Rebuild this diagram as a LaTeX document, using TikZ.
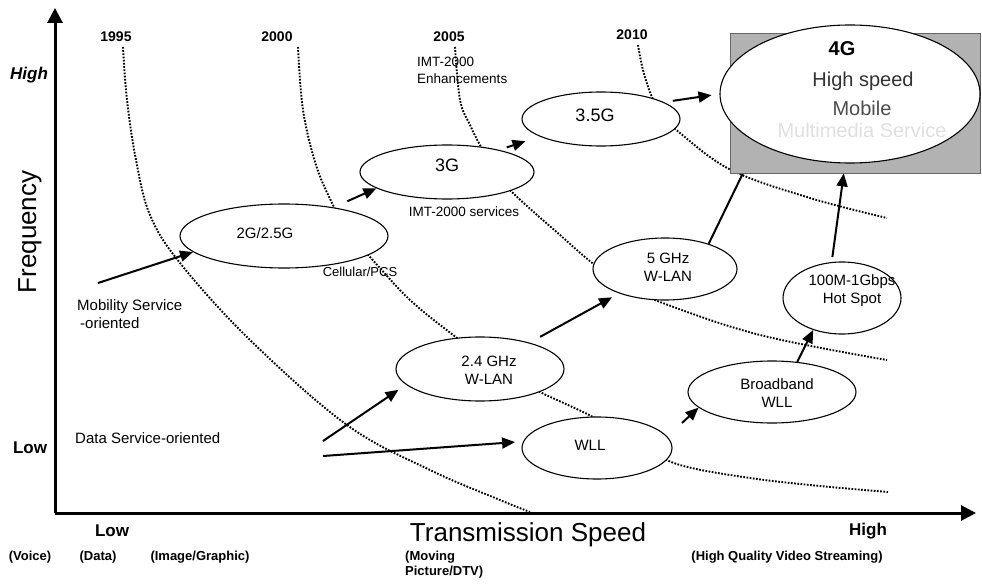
\documentclass[tikz,border=0pt]{standalone}
\usepackage{fontspec}
\setmainfont{Liberation Sans}
\usetikzlibrary{shapes.geometric,arrows.meta}
\pgfdeclarelayer{bg}
\pgfsetlayers{bg,main}
\tikzset{
  ell/.style={ellipse, draw, line width=1.1pt, fill=white, inner sep=0pt},
  lbl/.style={font=\fontsize{15}{18}\selectfont, align=center, inner sep=0pt},
  lblbig/.style={font=\fontsize{18}{20}\selectfont, inner sep=0pt},
  arr/.style={line width=2pt, -{Triangle[length=13pt,width=11pt]}},
  axisline/.style={line width=3pt, -{Triangle[length=15pt,width=15pt]}},
  yearcurve/.style={line width=1.9pt, dash pattern=on 1.7pt off 1.5pt},
  plain/.style={font=\fontsize{15}{18}\selectfont, inner sep=0pt},
  small/.style={font=\fontsize{13.5}{17}\selectfont, inner sep=0pt},
  year/.style={font=\bfseries\fontsize{14}{16}\selectfont, inner sep=0pt},
  axlbl/.style={font=\bfseries\fontsize{17}{19}\selectfont, inner sep=0pt},
  bottom/.style={font=\bfseries\fontsize{13}{15}\selectfont, inner sep=0pt},
  bigtitle/.style={font=\fontsize{26}{28}\selectfont, inner sep=0pt},
  fourg/.style={font=\fontsize{20}{22}\selectfont, inner sep=0pt},
}
\begin{document}
\begin{tikzpicture}[x=1pt,y=-1pt]
\useasboundingbox (0,0) rectangle (982,588);

% axes
\coordinate (O) at (55,513);
\coordinate (ytop) at (55,8);
\coordinate (xend) at (976,513);
\draw[axisline] (O) -- (ytop);
\draw[axisline] (O) -- (xend);

% axis labels
\node[axlbl, font=\bfseries\itshape\fontsize{17}{19}\selectfont] (yhigh) at (29,75) {High};
\node[axlbl] (ylow) at (30,448) {Low};
\node[bigtitle, rotate=90] (freq) at (30,232) {Frequency};
\node[axlbl] (xlow) at (112,531) {Low};
\node[axlbl] (xhigh) at (868,531) {High};
\node[bigtitle] (tspeed) at (528,535) {Transmission Speed};

% bottom row
\node[bottom] (voice) at (30,557) {(Voice)};
\node[bottom] (data) at (98,557) {(Data)};
\node[bottom] (image) at (200,557) {(Image/Graphic)};
\node[bottom, anchor=west, align=left, font=\bfseries\fontsize{13}{15}\selectfont] (moving) at (405,564.5) {(Moving\\Picture/DTV)};
\node[bottom] (hq) at (787,557) {(High Quality Video Streaming)};

% years
\node[year] (y1995) at (116,37) {1995};
\node[year] (y2000) at (277,37) {2000};
\node[year] (y2005) at (449,37) {2005};
\node[year] (y2010) at (632,35) {2010};

% shaded box
\node[draw=black!60, fill=black!30, line width=0.8pt, minimum width=250pt, minimum height=140pt, inner sep=0pt] (box) at (855,103) {};

% ellipses
\node[ell, minimum width=208pt, minimum height=64pt,
  label={[lbl,xshift=-19pt,yshift=3pt]center:2G/2.5G}] (g2) at (284,236) {};
\node[ell, minimum width=174pt, minimum height=54pt,
  label={[lblbig,yshift=7pt]center:3G}] (g3) at (447,172) {};
\node[ell, minimum width=158pt, minimum height=54pt,
  label={[lblbig,xshift=-6pt,yshift=4pt]center:3.5G}] (g35) at (601,119) {};
\node[ell, minimum width=260pt, minimum height=138pt] (g4) at (850,94) {};
\node[ell, minimum width=144pt, minimum height=62pt,
  label={[lbl,xshift=3pt,yshift=2pt]center:5 GHz\\W-LAN}] (g5) at (665,269) {};
\node[ell, minimum width=168pt, minimum height=64pt,
  label={[lbl,xshift=9pt,yshift=-1pt]center:2.4 GHz\\W-LAN}] (g24) at (480,369) {};
\node[ell, minimum width=150pt, minimum height=62pt,
  label={[lbl,xshift=-7pt,yshift=3pt]center:WLL}] (wll) at (597,448) {};
\node[ell, minimum width=168pt, minimum height=62pt,
  label={[lbl,xshift=5pt,yshift=-1pt]center:Broadband\\WLL}] (bb) at (772,392) {};
\node[ell, minimum width=118pt, minimum height=72pt,
  label={[lbl,xshift=10pt,yshift=7pt]center:100M-1Gbps\\Hot Spot}] (hs) at (842,298) {};

% 4G texts
\node[fourg, font=\bfseries\fontsize{20}{22}\selectfont] (t4g) at (842,49) {4G};
\node[fourg, text=black!80] (t4ga) at (863,81) {High speed};
\node[fourg, text=black!70] (t4gb) at (862,108) {Mobile};
\node[fourg, text=black!12] (t4gc) at (862,130) {Multimedia Service};

% other texts
\node[small, anchor=west, align=left] (imte) at (417,70.5) {IMT-2000\\Enhancements};
\node[small] (imts) at (464,212) {IMT-2000 services};
\node[small, font=\fontsize{13}{15}\selectfont] (cell) at (360,272) {Cellular/PCS};
\node[plain, anchor=west, align=left] (mob) at (77,314) {Mobility Service\\\hspace*{3pt}-oriented};
\node[plain, anchor=west] (dso) at (75,438) {Data Service-oriented};

% year curves
\begin{pgfonlayer}{bg}
\draw[yearcurve] plot[smooth, tension=0.6] coordinates {(123,47) (127,100) (136,160) (150,215) (180,263) (250,340) (347,425) (430,470) (500,500) (530,512)};
\draw[yearcurve] plot[smooth, tension=0.6] coordinates {(298,47) (303,110) (316,165) (333,205) (350,235) (370,257) (410,300) (457,338) (500,370) (540,392) (593,417) (640,445) (680,465) (750,478) (820,486) (888,492)};
\draw[yearcurve] plot[smooth, tension=0.6] coordinates {(455,47) (460,100) (470,125) (480,145) (495,170) (513,193) (560,235) (595,265) (630,287) (660,302) (760,335) (887,360)};
\draw[yearcurve] plot[smooth, tension=0.6] coordinates {(638,45) (643,70) (652,97) (665,118) (680,133) (731,170) (810,198) (887,218)};
\draw[arr] (g5.30) -- (g4.208);
\end{pgfonlayer}

% free ends
\coordinate (mobstart) at (98,283);
\coordinate (dstart1) at (323,441);
\coordinate (dstart2) at (323,456);
\coordinate (wbstart) at (682,423);

% arrows
\draw[arr] (mobstart) -- (g2.190);
\draw[arr, shorten <=15pt] (g2.30) -- (g3.193);
\draw[arr, shorten <=8pt, shorten >=15pt] (g3.23) -- (g35.196);
\draw[arr, shorten <=9pt, shorten >=8pt] (g35.15) -- (g4.180);
\draw[arr, shorten <=5pt, shorten >=10pt] (hs.106) -- (g4.266);
\draw[arr] (bb.50) -- (hs.228);
\draw[arr] (wbstart) -- (bb.192);
\draw[arr, shorten <=12pt, shorten >=8pt] (g24.28) -- (g5.208);
\draw[arr, shorten >=9pt] (dstart1) -- (g24.192);
\draw[arr, shorten >=8pt] (dstart2) -- (wll.175);
\end{tikzpicture}
\end{document}
